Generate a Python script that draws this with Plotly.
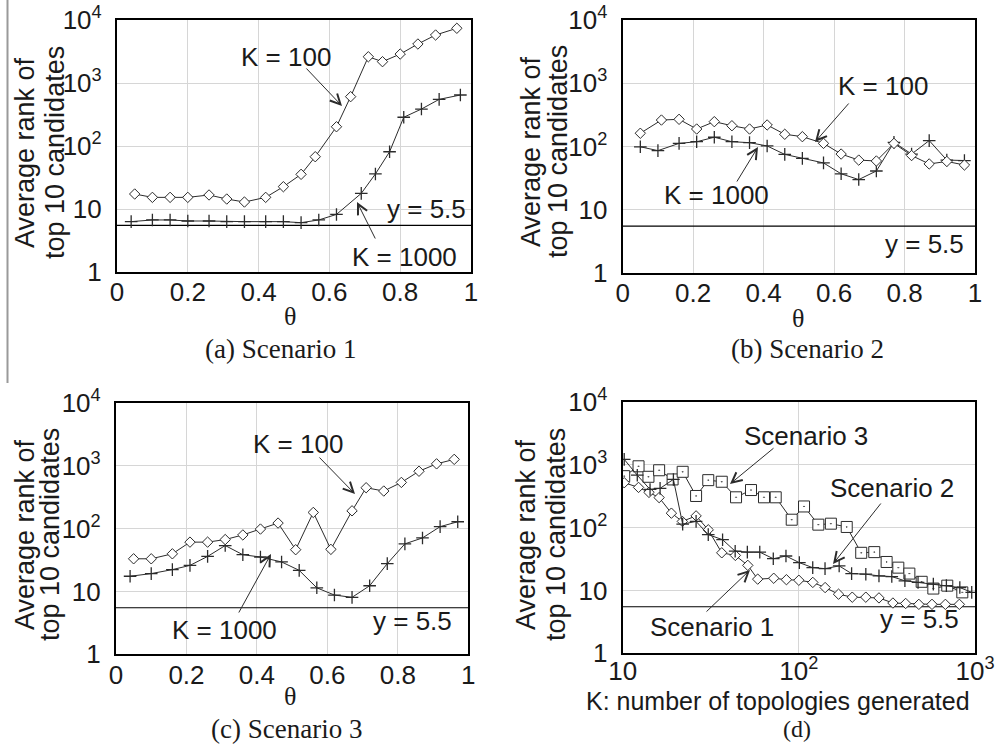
import plotly.graph_objects as go

# ---------------- data ----------------
# (a) Scenario 1
a_theta_k100 = [0.05, 0.10, 0.15, 0.20, 0.26, 0.31, 0.36, 0.42, 0.47, 0.52, 0.56, 0.62, 0.66, 0.71, 0.75, 0.80, 0.85, 0.90, 0.96]
a_k100 = [17.3, 15.3, 15.3, 15.3, 16.7, 14.4, 12.9, 15.3, 22.6, 35.5, 67.6, 202, 607, 2610, 2180, 2880, 4160, 5780, 7390]
a_theta_k1000 = [0.04, 0.10, 0.15, 0.20, 0.26, 0.31, 0.36, 0.42, 0.47, 0.52, 0.57, 0.62, 0.69, 0.73, 0.77, 0.81, 0.86, 0.91, 0.97]
a_k1000 = [6.3, 6.7, 6.7, 6.45, 6.45, 6.3, 6.3, 6.3, 6.3, 6.07, 6.7, 8.2, 17.7, 36, 81, 286, 386, 550, 645]

# (b) Scenario 2
b_theta_k100 = [0.05, 0.11, 0.16, 0.21, 0.26, 0.31, 0.36, 0.41, 0.46, 0.51, 0.57, 0.62, 0.67, 0.72, 0.77, 0.82, 0.87, 0.92, 0.97]
b_k100 = [162, 262, 269, 189, 247, 213, 189, 219, 156, 143, 112, 76, 61, 59, 112, 72, 53, 58, 51]
b_theta_k1000 = [0.05, 0.10, 0.16, 0.21, 0.26, 0.31, 0.36, 0.41, 0.46, 0.51, 0.57, 0.62, 0.67, 0.72, 0.77, 0.82, 0.87, 0.92, 0.97]
b_k1000 = [99, 86, 112, 119, 140, 119, 115, 102, 75, 65, 55, 37, 30, 41, 116, 76, 124, 61, 60]

# (c) Scenario 3
c_theta_k100 = [0.05, 0.10, 0.16, 0.21, 0.26, 0.31, 0.36, 0.41, 0.46, 0.51, 0.56, 0.61, 0.67, 0.71, 0.76, 0.81, 0.86, 0.91, 0.96]
c_k100 = [33, 33, 39.6, 60.7, 60.7, 66.7, 79, 98, 122, 46, 180, 46.6, 191, 445, 394, 540, 813, 1066, 1256]
c_theta_k1000 = [0.04, 0.10, 0.16, 0.21, 0.26, 0.31, 0.36, 0.41, 0.47, 0.52, 0.57, 0.62, 0.67, 0.72, 0.77, 0.82, 0.87, 0.92, 0.97]
c_k1000 = [17.4, 19.2, 22.2, 25.9, 36, 53.6, 38.3, 35.2, 29.4, 21.6, 11.4, 8.75, 8.05, 12.3, 27.6, 57, 70.8, 107, 128]

# (d) vs K
d_k_s1 = [10.2, 12.3, 14.1, 16.1, 18.9, 21.8, 26.1, 30.6, 36.5, 43.6, 51.3, 58.4, 72, 85, 100, 120, 141, 168, 201, 240, 285, 342, 404, 480, 570, 679, 815]
d_s1 = [515, 434, 362, 299, 169, 125, 153, 92, 39.6, 36, 25, 15.1, 15.6, 14.8, 14.5, 13.4, 11.1, 8.7, 7.8, 7.8, 7.6, 6.3, 6.2, 6.0, 6.0, 6.0, 6.0]
d_k_s2 = [10.2, 12.1, 14.3, 16.3, 19.4, 21.9, 26.1, 30.6, 36.9, 43.5, 51.0, 60.0, 71.6, 84.5, 100.7, 119.9, 140.8, 169.4, 199.3, 240, 285, 337, 400, 475, 580, 688, 820, 958]
d_s2 = [1211, 678, 403, 419, 581, 113, 125, 77, 64, 42, 40.6, 40.6, 31.9, 35.2, 27.6, 23.0, 22.2, 24.5, 18.5, 18.1, 17.0, 16.6, 14.2, 13.4, 12.6, 11.9, 11.1, 9.3]
d_k_s3 = [10.2, 12.3, 14.0, 16.1, 19.2, 21.9, 26.1, 30.6, 36.5, 44.0, 53.5, 63.4, 73.9, 91.1, 107, 129, 152, 187, 226, 268, 315, 367, 424, 498, 580, 696, 847]
d_s3 = [655, 940, 640, 813, 581, 768, 317, 566, 534, 302, 394, 302, 302, 133, 216, 111, 115, 102, 39.6, 40.6, 28.3, 23.0, 18.5, 13.7, 10.7, 11.9, 9.3]

ref_line = 5.5
theta_ticks = [0, 0.2, 0.4, 0.6, 0.8, 1]
theta_ticktext = ["0", "0.2", "0.4", "0.6", "0.8", "1"]
rank_ticks = [1, 10, 100, 1000, 10000]
rank_ticktext = ["1", "10", "10<sup>2</sup>", "10<sup>3</sup>", "10<sup>4</sup>"]
k_ticks = [10, 100, 1000]
k_ticktext = ["10", "10<sup>2</sup>", "10<sup>3</sup>"]

# ---------------- layout helpers ----------------
W, H = 1006, 744
def fx(x):
    return x / W
def fy(y):
    return 1 - y / H

SANS = "Liberation Sans, Arial, sans-serif"
SERIF = "Liberation Serif, Times New Roman, serif"
INK = "#1a1a1a"
LINE = "#2b2b2b"
GRID = "#d6d6d6"
TF = 26

fig = go.Figure()

panels = [
    dict(x=(117, 471), y=(20, 272), xlog=False),
    dict(x=(622.7, 975), y=(20, 273), xlog=False),
    dict(x=(116, 468.3), y=(402.7, 654.3), xlog=False),
    dict(x=(622.7, 975), y=(401.7, 653.3), xlog=True),
]

layout = {}
for i, p in enumerate(panels, start=1):
    sx = "" if i == 1 else str(i)
    xa = dict(domain=[fx(p["x"][0]), fx(p["x"][1])], anchor="y" + sx, automargin=False,
              showline=True, mirror=True, linecolor="black", linewidth=2.2,
              showgrid=True, gridcolor=GRID, gridwidth=1.3, zeroline=False,
              ticks="", tickfont=dict(family=SANS, size=TF, color=INK),
              ticklabelstandoff=-4)
    if p["xlog"]:
        xa.update(type="log", range=[1, 3], tickvals=k_ticks, ticktext=k_ticktext,
                  ticklabelstandoff=-7)
    else:
        xa.update(range=[0, 1], tickvals=theta_ticks, ticktext=theta_ticktext)
    ya = dict(domain=[fy(p["y"][1]), fy(p["y"][0])], anchor="x" + sx, automargin=False,
              type="log", range=[0, 4], tickvals=rank_ticks, ticktext=rank_ticktext,
              showline=True, mirror=True, linecolor="black", linewidth=2.2,
              showgrid=True, gridcolor=GRID, gridwidth=1.3, zeroline=False,
              ticks="", tickfont=dict(family=SANS, size=TF, color=INK),
              ticklabelstandoff=8)
    layout["xaxis" + sx] = xa
    layout["yaxis" + sx] = ya


def series(xs, ys, i, symbol, size, lw=1):
    sx = "" if i == 1 else str(i)
    if symbol == "cross-thin":
        marker = dict(symbol=symbol, size=size, line=dict(color=LINE, width=1.3))
    else:
        marker = dict(symbol=symbol, size=size, color="white", line=dict(color=LINE, width=1))
    fig.add_trace(go.Scatter(x=xs, y=ys, xaxis="x" + sx, yaxis="y" + sx,
                             mode="lines+markers", line=dict(color=LINE, width=lw),
                             marker=marker, showlegend=False, hoverinfo="skip"))


def hline(i, xr):
    sx = "" if i == 1 else str(i)
    fig.add_trace(go.Scatter(x=xr, y=[ref_line, ref_line], xaxis="x" + sx, yaxis="y" + sx,
                             mode="lines", line=dict(color="black", width=1.2),
                             showlegend=False, hoverinfo="skip"))

for i in (1, 2, 3):
    hline(i, [0, 1])
hline(4, [10, 1000])

series(a_theta_k1000, a_k1000, 1, "cross-thin", 9)
series(a_theta_k100, a_k100, 1, "diamond", 8)
series(b_theta_k1000, b_k1000, 2, "cross-thin", 9)
series(b_theta_k100, b_k100, 2, "diamond", 8)
series(c_theta_k1000, c_k1000, 3, "cross-thin", 9)
series(c_theta_k100, c_k100, 3, "diamond", 8)
series(d_k_s3, d_s3, 4, "square-dot", 11)
series(d_k_s1, d_s1, 4, "diamond", 8)
series(d_k_s2, d_s2, 4, "cross-thin", 9)

ann = []
def text(xp, yp, s, size=TF, family=SANS, angle=0):
    ann.append(dict(x=fx(xp), y=fy(yp), xref="paper", yref="paper", text=s,
                    showarrow=False, textangle=angle, xanchor="center", yanchor="middle",
                    font=dict(family=family, size=size, color=INK)))

def arrow(tail, tip):
    ann.append(dict(x=fx(tip[0]), y=fy(tip[1]), xref="paper", yref="paper", text="",
                    showarrow=True, ax=tail[0] - tip[0], ay=tail[1] - tip[1],
                    arrowhead=5, arrowsize=2, arrowwidth=1, arrowcolor=LINE))

# y axis titles (two lines each)
for (x1, x2, yc) in [(25, 55, 153), (531, 558, 152), (25, 50, 535), (526, 556, 535)]:
    text(x1, yc, "Average rank of", size=27, angle=-90)
    text(x2, yc, "top 10 candidates", size=27, angle=-90)

# x titles & captions
text(290, 317, "θ", size=26, family=SERIF)
text(798, 318, "θ", size=26, family=SERIF)
text(290, 696, "θ", size=26, family=SERIF)
text(280, 349, "(a) Scenario 1", size=27, family=SERIF)
text(807, 349, "(b) Scenario 2", size=27, family=SERIF)
text(286, 729, "(c) Scenario 3", size=27, family=SERIF)
text(778, 701, "K: number of topologies generated", size=25)
text(797, 729, "(d)", size=24, family=SERIF)

# panel labels
text(286, 57, "K = 100"); arrow((305, 67), (342, 106))
text(404, 257, "K = 1000"); arrow((376, 240), (357, 202))
text(426, 209, "y = 5.5")

text(883, 86, "K = 100"); arrow((850, 102), (815, 142))
text(716, 195, "K = 1000"); arrow((736, 183), (758, 147))
text(924, 244, "y = 5.5")

text(298, 444, "K = 100"); arrow((318, 456), (355, 494))
text(224, 630, "K = 1000"); arrow((238, 614), (271, 554))
text(412, 621, "y = 5.5")

text(806, 436, "Scenario 3"); arrow((775, 447), (730, 484))
text(892, 488, "Scenario 2"); arrow((882, 502), (833, 564))
text(712, 627, "Scenario 1"); arrow((705, 613), (750, 570))
text(919, 619, "y = 5.5")

layout.update(width=W, height=H, margin=dict(l=0, r=0, t=0, b=0, autoexpand=False),
              paper_bgcolor="white", plot_bgcolor="white", annotations=ann,
              shapes=[dict(type="line", xref="paper", yref="paper",
                           x0=fx(7.5), x1=fx(7.5), y0=fy(0), y1=fy(383),
                           line=dict(color="#9a9a9a", width=2))])
fig.update_layout(**layout)
fig.write_html("out.html")
